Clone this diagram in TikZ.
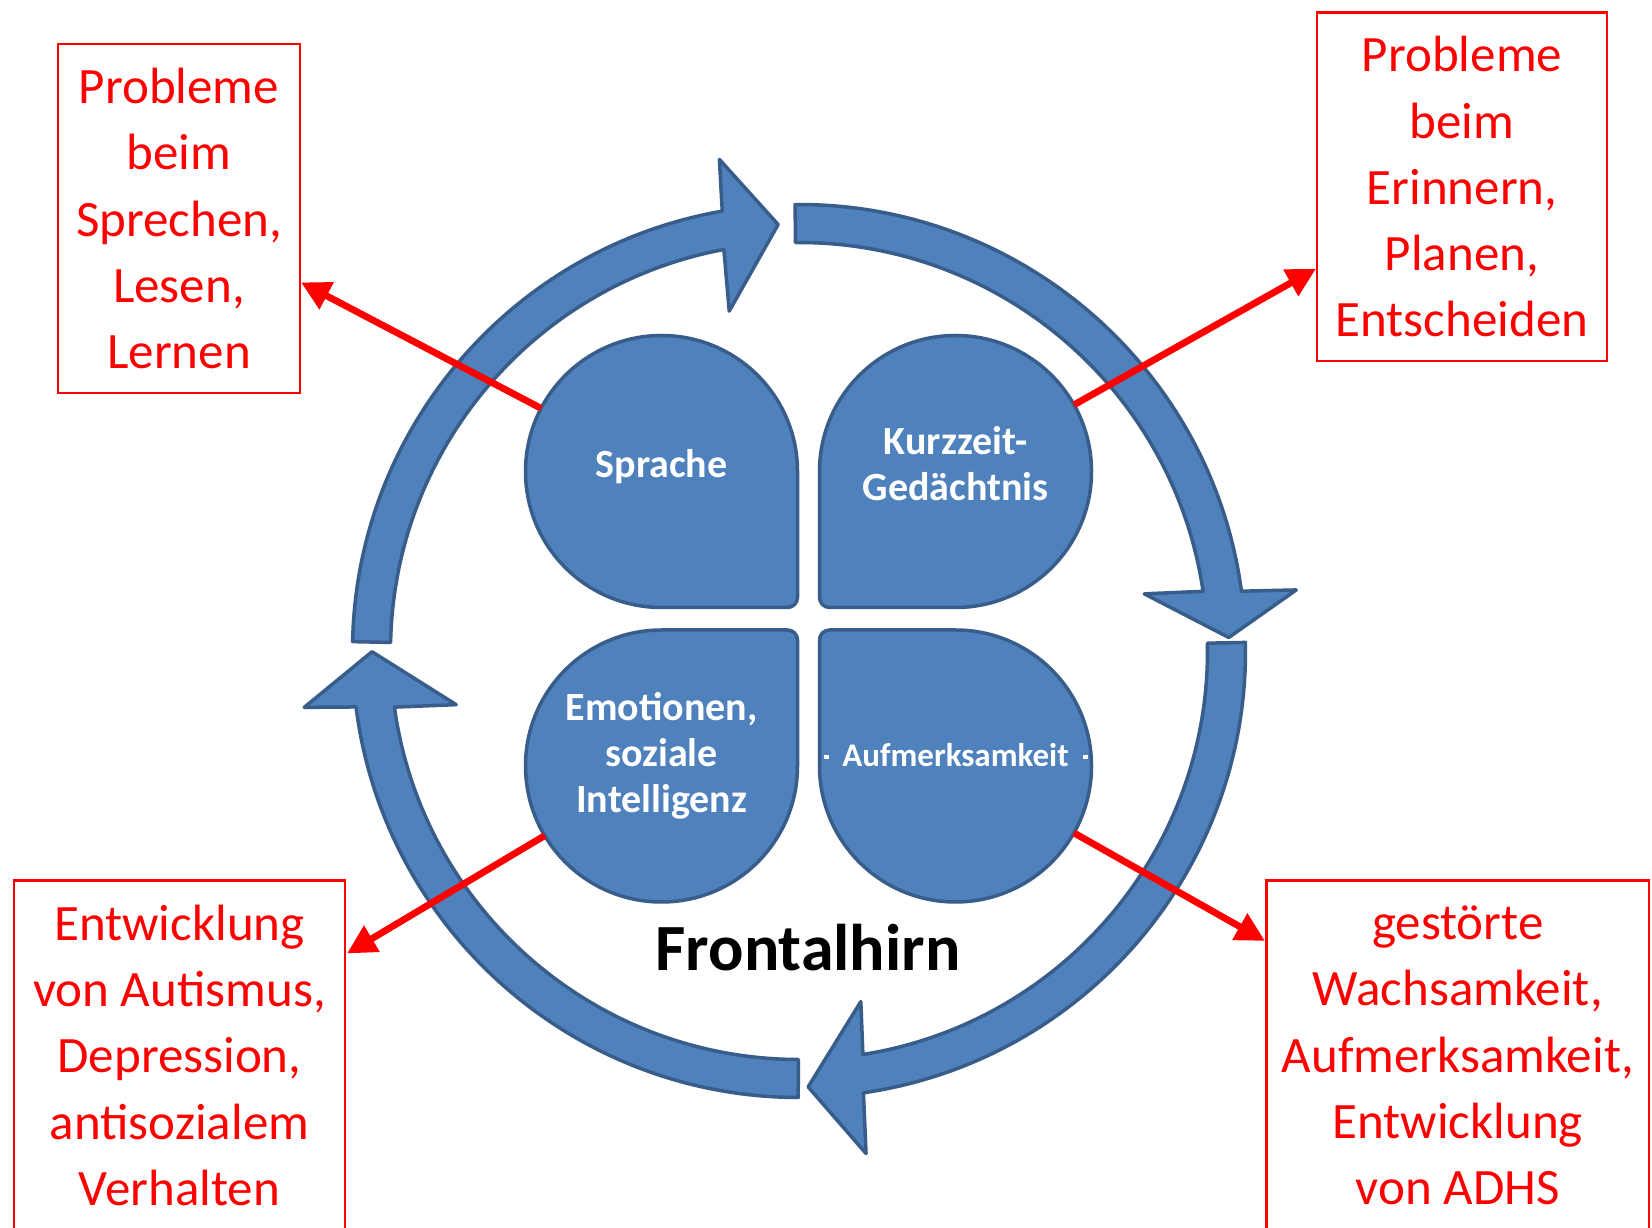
\documentclass[tikz,border=0pt]{standalone}
\usepackage{fontspec}
\setmainfont{Carlito}
\usetikzlibrary{arrows.meta}
\definecolor{accblue}{HTML}{4F81BD}
\definecolor{accline}{HTML}{385D8A}
\definecolor{warnred}{HTML}{FF0000}

\begin{document}
\begin{tikzpicture}[x=1pt,y=1pt,
  ringarrow/.style={fill=accblue, draw=accline, line width=3.5pt, line join=round},
  petal/.style={fill=accblue, draw=accline, line width=3.5pt},
  petaltext/.style={text=white, font=\bfseries\fontsize{40}{46}\selectfont, align=center, inner sep=0pt},
  hub/.style={circle, minimum size=272pt, inner sep=0pt, outer sep=0pt},
  effectbox/.style={draw=warnred, line width=2.5pt, text=warnred, align=center,
    font=\fontsize{51}{66.3}\selectfont, inner sep=0pt},
  effectarrow/.style={draw=warnred, line width=6.8pt, -{Triangle[length=29pt,width=29pt]}},
]
\clip (0,0) rectangle (1652,1227);
\fill[white] (0,0) rectangle (1652,1227);

% four circular arrows forming the ring:
% tail angle / tip angle / radial offset of the head / angular length of the head
\begin{scope}[shift={(799,576)}]
\foreach \T/\P/\d/\h in {178.8/92.8/0/0, 90.5/1.8/3/-1.2, 1.1/-88.8/9/0, -90.1/-179.9/0/0}{
  \filldraw[ringarrow] (\T:446.5) arc[start angle=\T, end angle={\P+7.1+\h}, radius=446.5]
    -- ({\P+6.4+\h}:{498+\d}) -- (\P:{427+\d}) -- ({\P+8.8+\h}:{347+\d}) -- ({\P+7.8+\h}:408.5)
    arc[start angle={\P+7.8+\h}, end angle=\T, radius=408.5] -- cycle;
}
\end{scope}

% four petals, each a circle with one squared inner corner
\foreach \cx/\cy/\rot in {661.5/755.5/0, 955.5/755.5/-90, 661.5/461/90, 955.5/461/180}{
  \begin{scope}[shift={(\cx,\cy)}, rotate=\rot]
    \filldraw[petal] (136,0) -- (136,-126) arc[start angle=0, end angle=-90, radius=10]
      -- (0,-136) arc[start angle=-90, end angle=-360, radius=136] -- cycle;
  \end{scope}
}

% hubs of the petals, where the red connectors leave
\node[hub] (hSpr) at (661.5,755.5) {};
\node[hub] (hKur) at (955.5,755.5) {};
\node[hub] (hEmo) at (661.5,461) {};
\node[hub] (hAuf) at (955.5,461) {};

% petal labels
\node[petaltext] (tSpr) at (661.6,760.4) {Sprache};
\node[petaltext] (tKur) at (955.6,763.4) {Kurzzeit-\\Gedächtnis};
\node[petaltext] (tEmo) at (661.6,471.6) {Emotionen,\\soziale\\Intelligenz};
\node[petaltext, font=\bfseries\fontsize{33}{38}\selectfont] (tAuf) at (955.6,471.6) {Aufmerksamkeit};
\fill[white] (824.2,467.8) rectangle (828.6,472.2);
\fill[white] (1083.2,467.8) rectangle (1087.6,472.2);

\node[font=\bfseries\fontsize{66}{72}\selectfont] (front) at (808,279) {Frontalhirn};

% consequence boxes
\node[effectbox, minimum width=242pt, minimum height=349pt] (bTL) at (179,1008.5)
  {Probleme\\beim\\Sprechen,\\Lesen,\\Lernen};
\node[effectbox, minimum width=290pt, minimum height=348.4pt] (bTR) at (1462,1040.2)
  {Probleme\\beim\\Erinnern,\\Planen,\\Entscheiden};
\node[effectbox, minimum width=331pt, minimum height=349.3pt] (bBL) at (179.5,171.65)
  {Entwicklung\\von Autismus,\\Depression,\\antisozialem\\Verhalten};
\node[effectbox, minimum width=382.5pt, minimum height=349.3pt] (bBR) at (1457.75,171.65)
  {gestörte\\Wachsamkeit,\\Aufmerksamkeit,\\Entwicklung\\von ADHS};

% red connectors from the petals to the boxes
\coordinate (tipA) at (301,944.6);
\coordinate (tipB) at (1316,958.3);
\coordinate (tipC) at (347,273.5);
\coordinate (tipD) at (1265,286.1);
\draw[effectarrow] (hSpr) -- (tipA);
\draw[effectarrow] (hKur) -- (tipB);
\draw[effectarrow] (hEmo) -- (tipC);
\draw[effectarrow] (hAuf) -- (tipD);
\end{tikzpicture}
\end{document}
